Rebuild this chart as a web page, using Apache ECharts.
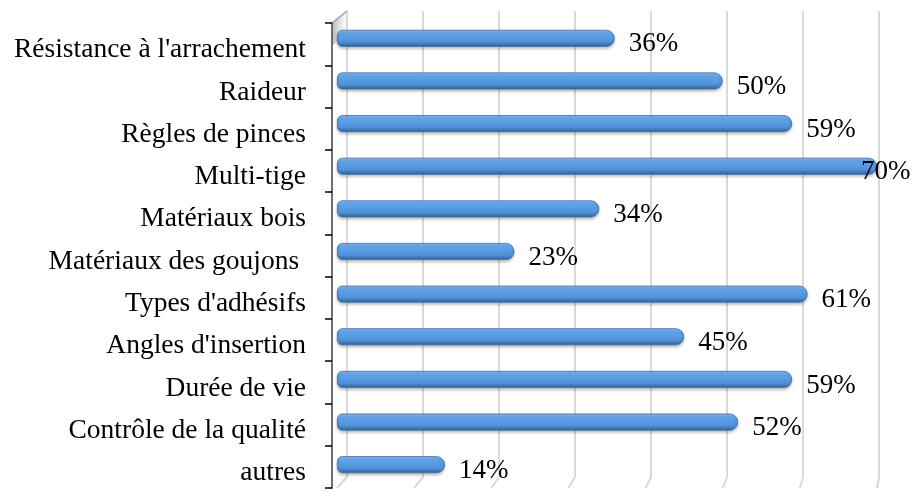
<!DOCTYPE html>
<html>
<head>
<meta charset="utf-8">
<script src="https://cdn.jsdelivr.net/npm/echarts@6/dist/echarts.min.js"></script>
<style>
  html, body { margin: 0; padding: 0; background: #fff; }
  #chart { width: 917px; height: 492px; }
</style>
</head>
<body>
<div id="chart"></div>
<script>
    // données
    const categories = [
        "Résistance à l'arrachement",
        "Raideur",
        "Règles de pinces",
        "Multi-tige",
        "Matériaux bois",
        "Matériaux des goujons ",
        "Types d'adhésifs",
        "Angles d'insertion",
        "Durée de vie",
        "Contrôle de la qualité",
        "autres"
    ];
    const values = [36, 50, 59, 70, 34, 23, 61, 45, 59, 52, 14];
    const axisMax = 70;
    const axisStep = 10;

    const FONT = "'Liberation Serif', 'Times New Roman', serif";

    // grilles : barres (avant), axe des catégories, paroi du fond
    const barGrid = { left: 337, top: 17, width: 540, height: 469 };
    const axisGrid = { left: 332, top: 23, width: 545, height: 465 };
    const wallGrid = { left: 347, top: 11, width: 532, height: 466 };

    const chart = echarts.init(document.getElementById('chart'));

    const barColor = new echarts.graphic.LinearGradient(0, 0, 0, 1, [
        { offset: 0, color: '#8cbcf0' },
        { offset: 0.25, color: '#62a3e8' },
        { offset: 0.7, color: '#5092d9' },
        { offset: 1, color: '#2f5f98' }
    ]);

    // l'étiquette de la plus grande barre passe sur la barre (comme dans Excel)
    const barData = values.map(v => v >= axisMax ? { value: v, label: { distance: -16 } } : v);

    const option = {
        animation: false,
        grid: [barGrid, axisGrid, wallGrid],
        xAxis: [
            { gridIndex: 0, type: 'value', min: 0, max: axisMax, interval: axisStep, show: false },
            { gridIndex: 1, type: 'value', min: 0, max: axisMax, interval: axisStep, show: false },
            {
                gridIndex: 2, type: 'value', min: 0, max: axisMax, interval: axisStep,
                axisLine: { show: false }, axisTick: { show: false }, axisLabel: { show: false },
                splitLine: { show: true, lineStyle: { color: '#d9d9d9', width: 2 } }
            }
        ],
        yAxis: [
            { gridIndex: 0, type: 'category', data: categories, inverse: true, show: false },
            {
                gridIndex: 1, type: 'category', data: categories, inverse: true,
                axisLine: { show: true, lineStyle: { color: '#6e6e6e', width: 2 } },
                axisTick: { show: true, length: 7, lineStyle: { color: '#000', width: 1.5 } },
                axisLabel: {
                    margin: 26,
                    formatter: v => '{t|' + v + '}',
                    rich: {
                        t: {
                            color: '#000', fontFamily: FONT, fontSize: 27.5,
                            padding: [12, 0, 0, 0]
                        }
                    }
                },
                splitLine: { show: false }
            },
            { gridIndex: 2, type: 'value', show: false, min: 0, max: 1 }
        ],
        series: [{
            type: 'bar',
            xAxisIndex: 0,
            yAxisIndex: 0,
            data: barData,
            barWidth: 17,
            z: 3,
            itemStyle: {
                color: barColor,
                borderColor: '#3d6ea8',
                borderWidth: 0.8,
                borderRadius: [5, 8, 8, 5],
                shadowColor: 'rgba(0,0,0,0.25)',
                shadowBlur: 3,
                shadowOffsetY: 2
            },
            label: {
                show: true,
                position: 'right',
                distance: 14,
                offset: [0, 6],
                formatter: '{c}%',
                color: '#000',
                fontFamily: FONT,
                fontSize: 27
            }
        }]
    };
    chart.setOption(option);

    // lignes du sol en perspective et arête supérieure de la paroi gauche
    const floorY = wallGrid.top + wallGrid.height;
    const lines = [];
    for (let v = 0; v <= axisMax; v += axisStep) {
        const xb = chart.convertToPixel({ xAxisIndex: 2 }, v);
        const xf = chart.convertToPixel({ xAxisIndex: 0 }, v);
        lines.push({
            type: 'line',
            shape: { x1: xb, y1: floorY, x2: xf, y2: floorY + 11 },
            style: { stroke: '#d9d9d9', lineWidth: 2 }
        });
    }
    lines.push({
        type: 'line',
        shape: { x1: axisGrid.left, y1: axisGrid.top, x2: wallGrid.left, y2: wallGrid.top },
        style: { stroke: '#9a9a9a', lineWidth: 1.5 }
    });
    lines.push({
        type: 'polygon',
        shape: { points: [[axisGrid.left, axisGrid.top], [wallGrid.left, wallGrid.top], [wallGrid.left, wallGrid.top + 22], [axisGrid.left + 1, axisGrid.top + 22]] },
        style: {
            fill: new echarts.graphic.LinearGradient(0, 0, 1, 0, [
                { offset: 0, color: 'rgba(120,120,120,0.55)' },
                { offset: 1, color: 'rgba(230,230,230,0.2)' }
            ])
        },
        z: -1
    });
    chart.setOption({ graphic: lines });

    window.addEventListener('resize', () => chart.resize());
</script>
</body>
</html>
